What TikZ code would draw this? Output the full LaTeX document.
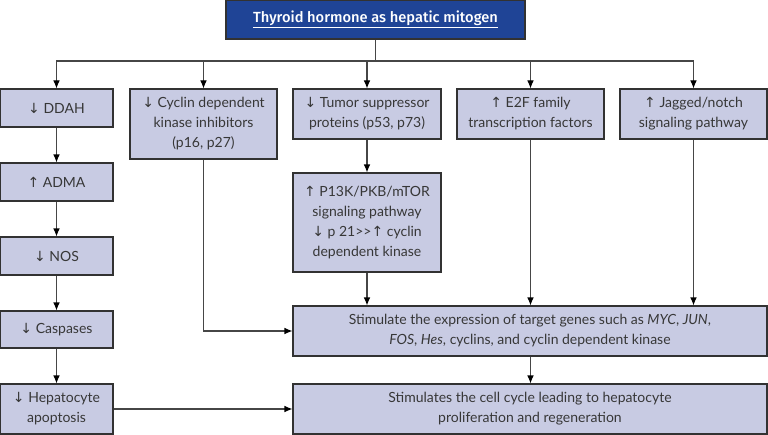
\documentclass[tikz,border=0pt]{standalone}
\usepackage{fontspec}
\setmainfont{Lato}
\newfontfamily\arrfont{DejaVu Sans}
\newfontfamily\titlefont{Fira Sans Medium}
\usetikzlibrary{arrows.meta}
\definecolor{boxfill}{RGB}{200,203,227}
\definecolor{boxline}{RGB}{50,50,50}
\definecolor{txt}{RGB}{55,55,55}
\definecolor{topfill}{RGB}{31,68,150}
\definecolor{conn}{RGB}{70,70,70}
\newcommand{\mydn}{{\arrfont ↓}}
\newcommand{\myup}{{\arrfont ↑}}
\begin{document}
\begin{tikzpicture}[x=0.75pt,y=-0.75pt,
  box/.style={draw=boxline, fill=boxfill, line width=0.8pt, inner sep=0pt,
    align=center, text=txt, font=\fontsize{10.5}{15}\selectfont},
  topbox/.style={draw=boxline, fill=topfill, line width=0.8pt, inner sep=0pt,
    align=center, text=white, font=\titlefont\fontsize{11}{13}\selectfont},
  conn/.style={draw=conn, line width=0.8pt},
  arr/.style={conn, -{Latex[length=6pt,width=5pt,color=black]}}]
\useasboundingbox (0,0) rectangle (768,435);
% top
\node[topbox, minimum width=224.25pt, minimum height=29.25pt] (top) at (375.5,19.5) {\underline{Thyroid hormone as hepatic mitogen}};
% column 1
\node[box, minimum width=84.75pt, minimum height=28.5pt] (ddah) at (56.5,108) {\mydn\ DDAH};
\node[box, minimum width=84.75pt, minimum height=28.5pt] (adma) at (56.5,182) {\myup\ ADMA};
\node[box, minimum width=84.75pt, minimum height=28.5pt] (nos) at (56.5,256) {\mydn\ NOS};
\node[box, minimum width=84.75pt, minimum height=27.75pt] (casp) at (56.5,329.5) {\mydn\ Caspases};
\node[box, minimum width=84.75pt, minimum height=37.5pt] (hep) at (56.5,409) {\mydn\ Hepatocyte\\apoptosis};
% column 2
\node[box, minimum width=110.25pt, minimum height=52.5pt] (cdki) at (203.5,124) {\mydn\ Cyclin dependent\\kinase inhibitors\\(p16, p27)};
% column 3
\node[box, minimum width=111pt, minimum height=37.5pt] (tsp) at (367,114) {\mydn\ Tumor suppressor\\proteins (p53, p73)};
\node[box, minimum width=111pt, minimum height=74.25pt] (pik) at (367,222.5) {\myup\ P13K/PKB/mTOR\\signaling pathway\\\mydn\ p 21>{}>\myup\ cyclin\\dependent kinase};
% column 4, 5
\node[box, minimum width=110.25pt, minimum height=37.5pt] (e2f) at (530.5,114) {\myup\ E2F family\\transcription factors};
\node[box, minimum width=110.25pt, minimum height=37.5pt] (jag) at (693.5,114) {\myup\ Jagged/notch\\signaling pathway};
% bottom boxes
\node[box, minimum width=355.5pt, minimum height=37.5pt] (stim) at (530,331) {Stimulate the expression of target genes such as \textit{MYC}, \textit{JUN},\\\textit{FOS}, \textit{Hes}, cyclins, and cyclin dependent kinase};
\node[box, minimum width=355.5pt, minimum height=37.5pt] (final) at (530,409) {Stimulates the cell cycle leading to hepatocyte\\proliferation and regeneration};
% connectors
\coordinate (bar) at (375.5,61);
\draw[conn] (top.south) -- (bar);
\draw[arr] (bar) -| (ddah.north);
\draw[arr] (bar) -| (cdki.north);
\draw[arr] (bar) -| (tsp.north);
\draw[arr] (bar) -| (e2f.north);
\draw[arr] (bar) -| (jag.north);
\draw[arr] (ddah) -- (adma);
\draw[arr] (adma) -- (nos);
\draw[arr] (nos) -- (casp);
\draw[arr] (casp) -- (hep);
\draw[arr] (tsp) -- (pik);
\draw[arr] (hep.east) -- (final.west);
\draw[arr] (cdki.south) |- (stim.west);
\draw[arr] (pik.south) -- (pik.south |- stim.north);
\draw[arr] (e2f.south) -- (e2f.south |- stim.north);
\draw[arr] (jag.south) -- (jag.south |- stim.north);
\draw[arr] (stim.south -| e2f.south) -- (final.north -| e2f.south);
\end{tikzpicture}
\end{document}
